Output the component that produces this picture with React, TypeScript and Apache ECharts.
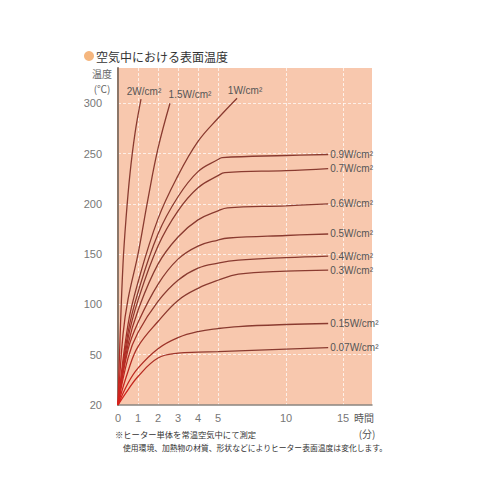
import React, { useEffect, useRef } from "react";
import * as echarts from "echarts";

// ---- data (time in minutes, temperature in °C) ----
const X_TICKS = [0, 1, 2, 3, 4, 5, 10, 15];
const Y_TICKS = [20, 50, 100, 150, 200, 250, 300];

const CURVE_2W = [[0, 20], [0.1, 65], [0.25, 140], [0.4, 185], [0.6, 230], [0.85, 270], [1.15, 304]];
const CURVE_15W = [[0, 20], [0.25, 70], [0.5, 105], [1, 150], [1.5, 205], [2, 255], [2.6, 300]];
const CURVE_1W = [[0, 20], [0.5, 80], [1, 122], [2, 185], [3, 228], [4, 262], [5, 285], [6.4, 305]];
const CURVE_09W = [[0, 20], [0.5, 72], [1, 112], [2, 170], [3, 207], [4, 232], [5, 244], [5.3, 246], [10, 248], [13.7, 249]];
const CURVE_07W = [[0, 20], [0.5, 66], [1, 104], [2, 158], [3, 193], [4, 216], [5, 228], [5.5, 231], [10, 233], [13.7, 235]];
const CURVE_06W = [[0, 20], [0.5, 60], [1, 94], [2, 140], [3, 167], [4, 184], [5, 193], [5.7, 196], [10, 198], [13.7, 200]];
const CURVE_05W = [[0, 20], [0.5, 55], [1, 82], [2, 120], [3, 145], [4, 158], [5, 164], [5.8, 166], [10, 168.5], [13.7, 170]];
const CURVE_04W = [[0, 20], [0.5, 48], [1, 72], [2, 103], [3, 124], [4, 136], [5, 141], [6.5, 144], [10, 146.5], [13.7, 148]];
const CURVE_03W = [[0, 20], [0.5, 40], [1, 58], [2, 83], [3, 104], [4, 116], [5, 124], [6.5, 130], [10, 133], [13.7, 134]];
const CURVE_015W = [[0, 20], [0.5, 33], [1, 42], [2, 56], [3, 67], [4, 73], [5, 76], [6.5, 78], [10, 80], [13.7, 81]];
const CURVE_007W = [[0, 20], [0.5, 29], [1, 37], [2, 48], [3, 51.5], [4, 52.5], [5, 53], [10, 55.5], [13.7, 57]];

const NAMES = ["2W/cm²", "1.5W/cm²", "1W/cm²", "0.9W/cm²", "0.7W/cm²", "0.6W/cm²", "0.5W/cm²", "0.4W/cm²", "0.3W/cm²", "0.15W/cm²", "0.07W/cm²"];
const CURVES = [CURVE_2W, CURVE_15W, CURVE_1W, CURVE_09W, CURVE_07W, CURVE_06W, CURVE_05W, CURVE_04W, CURVE_03W, CURVE_015W, CURVE_007W];

// ---- scale (the chart uses a broken time axis and a compressed 20–50 band) ----
function toU(t: number) {
  if (t <= 5) return t;
  if (t <= 10) return 5 + (t - 5) * 0.68;
  return 8.4 + (t - 10) * 0.57;
}
function toY(v: number) {
  return v >= 50 ? v : ((v - 20) * 50) / 30;
}
function fromY(y: number) {
  return y >= 50 ? y : 20 + (y * 30) / 50;
}

const FONT = "'Liberation Sans', Arial, sans-serif";
const JP = "'Noto Sans CJK JP', 'Noto Sans', sans-serif";

export default function App() {
  const ref = useRef<HTMLDivElement>(null);
  useEffect(() => {
    const chart = echarts.init(ref.current!, null, { renderer: "svg" });
    const lineColor = new echarts.graphic.RadialGradient(118, 405, 110, [
      { offset: 0, color: "#d8201a" },
      { offset: 0.55, color: "#a83026" },
      { offset: 1, color: "#8a3b30" },
    ], true);
    const xTickU = X_TICKS.map(toU);
    const labelPos: Record<number, { position: string; offset: number[] }> = {
      0: { position: "top", offset: [3, -1] },
      1: { position: "top", offset: [20, -2] },
      2: { position: "top", offset: [8, -1] },
    };
    const series = CURVES.map((c, i) => {
      const data = c.map(([t, v]) => [toU(t), toY(v)]);
      const last = data[data.length - 1];
      const lp = labelPos[i] || { position: "right", offset: [0, 0] };
      return {
        type: "line",
        name: NAMES[i],
        data,
        showSymbol: false,
        smooth: 0.4,
        lineStyle: { color: lineColor, width: 1.3 },
        silent: true,
        markPoint: {
          symbol: "circle",
          symbolSize: 0,
          silent: true,
          data: [
            {
              coord: last,
              label: {
                show: true,
                position: lp.position,
                offset: lp.offset,
                distance: 2,
                formatter: NAMES[i],
                color: "#555",
                fontSize: 10,
                fontFamily: FONT,
              },
            },
          ],
        },
      };
    });
    chart.setOption({
      animation: false,
      backgroundColor: "#ffffff",
      grid: {
        left: 118,
        top: 68,
        right: 128,
        bottom: 95,
        show: true,
        backgroundColor: "#f8c8ae",
        borderWidth: 0,
      },
      xAxis: {
        type: "value",
        min: 0,
        max: 12.7,
        axisLine: { show: true, lineStyle: { color: "#8a8580", width: 1.5 } },
        axisTick: { show: false, customValues: xTickU },
        axisLabel: {
          customValues: xTickU,
          formatter: (u: number) => {
            const idx = xTickU.findIndex((p) => Math.abs(p - u) < 1e-6);
            return idx >= 0 ? String(X_TICKS[idx]) : "";
          },
          color: "#777",
          fontSize: 11,
          fontFamily: FONT,
          margin: 7,
        },
        splitLine: { show: true, lineStyle: { color: "rgba(255,255,255,0.7)", type: [3, 2], width: 1 } },
      },
      yAxis: {
        type: "value",
        min: 0,
        max: 335,
        axisLine: { show: true, lineStyle: { color: "#8c7668", width: 2 } },
        axisTick: { show: false, customValues: Y_TICKS.map(toY) },
        axisLabel: {
          customValues: Y_TICKS.map(toY),
          formatter: (y: number) => String(Math.round(fromY(y))),
          color: "#777",
          fontSize: 11,
          fontFamily: FONT,
          margin: 16,
        },
        splitLine: { show: true, lineStyle: { color: "rgba(255,255,255,0.7)", type: [3, 2], width: 1 } },
      },
      graphic: [
        { type: "circle", shape: { cx: 89, cy: 56, r: 5 }, style: { fill: "#f5b67e" } },
        {
          type: "text",
          x: 96,
          y: 56,
          style: { text: "空気中における表面温度", fontSize: 12, fontFamily: JP, fill: "#333", verticalAlign: "middle" },
        },
        {
          type: "text",
          x: 102,
          y: 73,
          style: { text: "温度", fontSize: 10, fontFamily: JP, fill: "#666", align: "center", verticalAlign: "middle" },
        },
        {
          type: "text",
          x: 102,
          y: 88,
          style: { text: "(℃)", fontSize: 10, fontFamily: JP, fill: "#666", align: "center", verticalAlign: "middle" },
        },
        {
          type: "text",
          x: 364,
          y: 417,
          style: { text: "時間", fontSize: 10, fontFamily: JP, fill: "#555", align: "center", verticalAlign: "middle" },
        },
        {
          type: "text",
          x: 367,
          y: 433,
          style: { text: "(分)", fontSize: 10, fontFamily: JP, fill: "#555", align: "center", verticalAlign: "middle" },
        },
        {
          type: "text",
          x: 115,
          y: 434,
          style: { text: "※ヒーター単体を常温空気中にて測定", fontSize: 8.3, fontFamily: JP, fill: "#333", verticalAlign: "middle" },
        },
        {
          type: "text",
          x: 123,
          y: 447,
          style: { text: "使用環境、加熱物の材質、形状などによりヒーター表面温度は変化します。", fontSize: 7.8, fontFamily: JP, fill: "#333", verticalAlign: "middle" },
        },
      ],
      series,
    });
    return () => chart.dispose();
  }, []);
  return (
    <div
      ref={ref}
      style={{ position: "fixed", left: 0, top: 0, width: 500, height: 500, background: "#fff" }}
    />
  );
}
